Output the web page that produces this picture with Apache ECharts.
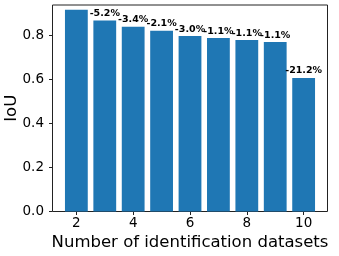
<!DOCTYPE html>
<html>
<head>
<meta charset="utf-8">
<script src="https://cdn.jsdelivr.net/npm/echarts@6/dist/echarts.min.js"></script>
<style>html,body{margin:0;padding:0;background:#fff;}#c{width:339px;height:256px;}</style>
</head>
<body>
<div id="c"></div>
<script>
const categories = [2, 3, 4, 5, 6, 7, 8, 9, 10];
const iouValues = [0.914, 0.866, 0.837, 0.819, 0.795, 0.786, 0.777, 0.768, 0.605];
const changeLabels = ['', '-5.2%', '-3.4%', '-2.1%', '-3.0%', '-1.1%', '-1.1%', '-1.1%', '-21.2%'];
const xTickValues = [2, 4, 6, 8, 10];
const yTickValues = [0, 0.2, 0.4, 0.6, 0.8];

const chart = echarts.init(document.getElementById('c'), null, {renderer: 'canvas'});
const font = 'DejaVu Sans';
chart.setOption({
  animation: false,
  textStyle: {fontFamily: font},
  grid: {left: 52.5, right: 11.5, top: 5, bottom: 44.5, outerBoundsMode: 'none', containLabel: false,
         show: true, borderColor: '#222', borderWidth: 1, backgroundColor: 'transparent'},
  xAxis: {
    type: 'value', min: 1.16, max: 10.84,
    axisLine: {show: false},
    splitLine: {show: false},
    axisTick: {show: true, length: 3.5, lineStyle: {color: '#222', width: 1}, customValues: xTickValues},
    axisLabel: {customValues: xTickValues, color: '#000', fontSize: 13.5, fontFamily: font, margin: 5},
    name: 'Number of identification datasets', nameLocation: 'middle', nameGap: 23, nameMoveOverlap: false,
    nameTextStyle: {fontSize: 16.5, color: '#000', fontFamily: font}
  },
  yAxis: {
    type: 'value', min: 0, max: 0.936,
    axisLine: {show: false},
    splitLine: {show: false},
    axisTick: {show: true, length: 3.5, lineStyle: {color: '#222', width: 1}, customValues: yTickValues},
    axisLabel: {customValues: yTickValues, color: '#000', fontSize: 13.5, fontFamily: font, margin: 8.5, formatter: v => v.toFixed(1)},
    name: 'IoU', nameLocation: 'middle', nameGap: 32.5, nameMoveOverlap: false,
    nameTextStyle: {fontSize: 16.5, color: '#000', fontFamily: font}
  },
  series: [{
    type: 'bar',
    barWidth: 22.8,
    data: categories.map((c, i) => [c, iouValues[i]]),
    itemStyle: {color: '#1f77b4'},
    label: {
      show: true, position: 'top', distance: 2,
      color: '#000', fontWeight: 'bold', fontSize: 9.5, fontFamily: font,
      formatter: p => changeLabels[p.dataIndex]
    }
  }]
});
</script>
</body>
</html>
